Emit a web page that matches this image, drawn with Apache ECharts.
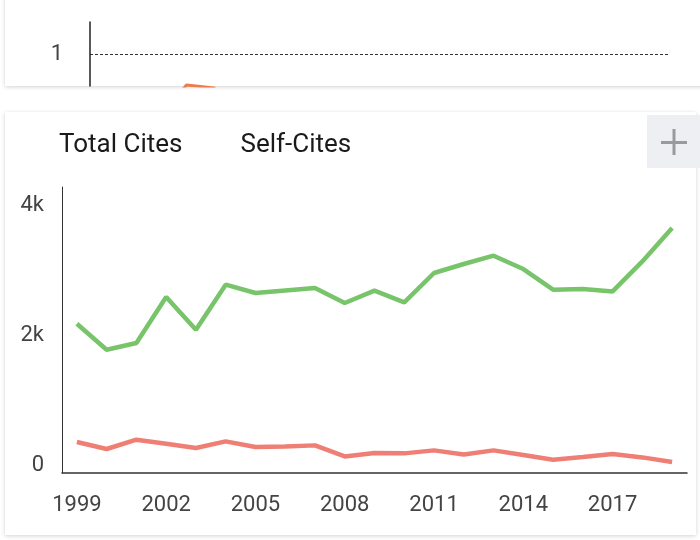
<!DOCTYPE html>
<html>
<head>
<meta charset="utf-8">
<script src="https://cdn.jsdelivr.net/npm/echarts@6/dist/echarts.min.js"></script>
<style>
  html, body { margin: 0; padding: 0; background: #fff; }
  #chart { width: 700px; height: 540px; }
</style>
</head>
<body>
<div id="chart"></div>
<script>
// citations per year
const years = ['1999', '2000', '2001', '2002', '2003', '2004', '2005', '2006', '2007', '2008', '2009',
  '2010', '2011', '2012', '2013', '2014', '2015', '2016', '2017', '2018', '2019'];
const totalCites = [2297, 1897, 2000, 2708, 2205, 2897, 2769, 2809, 2846, 2615, 2805,
  2625, 3077, 3215, 3343, 3138, 2820, 2831, 2794, 3255, 3769];
const selfCites = [477, 369, 512, 451, 385, 486, 400, 409, 425, 255, 308,
  302, 348, 286, 348, 277, 205, 246, 292, 240, 169];
// quartile strip from the card above (mostly cut off)
const quartile = [3, 3, 3, 1.97, 2.06, 3, 3, 3, 3, 3, 3, 3, 3, 3, 3, 3, 3, 3, 3, 3, 3];
const legendNames = ['Total Cites', 'Self-Cites'];

const font = 'Roboto';
const chart = echarts.init(document.getElementById('chart'));

chart.setOption({
  animation: false,
  textStyle: { fontFamily: font },
  graphic: [
    // cards
    {
      type: 'rect', z: -10, silent: true,
      shape: { x: 5, y: -10, width: 705, height: 96 },
      style: { fill: '#fff', shadowBlur: 4, shadowOffsetY: 1, shadowColor: 'rgba(0,0,0,0.18)' }
    },
    {
      type: 'rect', z: -10, silent: true,
      shape: { x: 5, y: 112, width: 691, height: 423 },
      style: { fill: '#fff', shadowBlur: 4, shadowOffsetY: 1, shadowColor: 'rgba(0,0,0,0.18)' }
    },
    // "+" button
    {
      type: 'group', z: 10,
      children: [
        { type: 'rect', shape: { x: 647, y: 115, width: 53, height: 53 }, style: { fill: '#EEEFF3' } },
        { type: 'rect', shape: { x: 661, y: 141, width: 26, height: 3 }, style: { fill: '#9a9a9a' } },
        { type: 'rect', shape: { x: 672.5, y: 129, width: 3, height: 26 }, style: { fill: '#9a9a9a' } }
      ]
    }
  ],
  legend: {
    data: legendNames,
    left: 48,
    top: 127,
    itemWidth: 0,
    itemHeight: 0,
    itemGap: 52,
    selectedMode: false,
    textStyle: { fontFamily: font, fontSize: 26, color: '#1a1a1a' }
  },
  grid: [
    { left: 90, right: 31, top: 22, height: 64 },
    { left: 62, right: 13, top: 187, bottom: 67 }
  ],
  xAxis: [
    {
      gridIndex: 0,
      type: 'category',
      data: years,
      boundaryGap: true,
      show: false
    },
    {
      gridIndex: 1,
      type: 'category',
      data: years,
      boundaryGap: true,
      axisTick: { show: false },
      axisLine: { lineStyle: { color: '#333', width: 1.5 } },
      axisLabel: {
        interval: 2,
        margin: 21,
        fontFamily: font,
        fontSize: 22,
        color: '#444'
      }
    }
  ],
  yAxis: [
    {
      gridIndex: 0,
      type: 'value',
      inverse: true,
      min: 0,
      max: 2,
      interval: 1,
      axisLine: { show: true, lineStyle: { color: '#222', width: 1.5 } },
      axisTick: { show: false },
      axisLabel: {
        margin: 27,
        verticalAlign: 'top',
        lineHeight: 1,
        fontFamily: font,
        fontSize: 22,
        color: '#444',
        formatter: v => (v === 1 ? '1' : '')
      },
      splitLine: {
        show: true,
        lineStyle: { color: ['rgba(0,0,0,0)', '#333', 'rgba(0,0,0,0)'], type: [3, 2], width: 1 }
      }
    },
    {
      gridIndex: 1,
      type: 'value',
      min: 0,
      max: 4400,
      interval: 2000,
      axisLine: { show: true, lineStyle: { color: '#333', width: 1 } },
      axisTick: { show: false },
      splitLine: { show: false },
      axisLabel: {
        showMaxLabel: false,
        margin: 18,
        verticalAlign: 'bottom',
        lineHeight: 16,
        fontFamily: font,
        fontSize: 22,
        color: '#444',
        formatter: v => (v === 0 ? '0' : v / 1000 + 'k')
      }
    }
  ],
  series: [
    {
      name: 'Quartile',
      type: 'line',
      xAxisIndex: 0,
      yAxisIndex: 0,
      data: quartile,
      showSymbol: false,
      clip: true,
      lineStyle: { color: '#EE7B4A', width: 3 }
    },
    {
      name: 'Total Cites',
      type: 'line',
      xAxisIndex: 1,
      yAxisIndex: 1,
      data: totalCites,
      showSymbol: false,
      color: '#78C46A',
      lineStyle: { color: '#78C46A', width: 4.5 }
    },
    {
      name: 'Self-Cites',
      type: 'line',
      xAxisIndex: 1,
      yAxisIndex: 1,
      data: selfCites,
      showSymbol: false,
      color: '#EF7F75',
      lineStyle: { color: '#EF7F75', width: 4.5 }
    }
  ]
});
</script>
</body>
</html>
